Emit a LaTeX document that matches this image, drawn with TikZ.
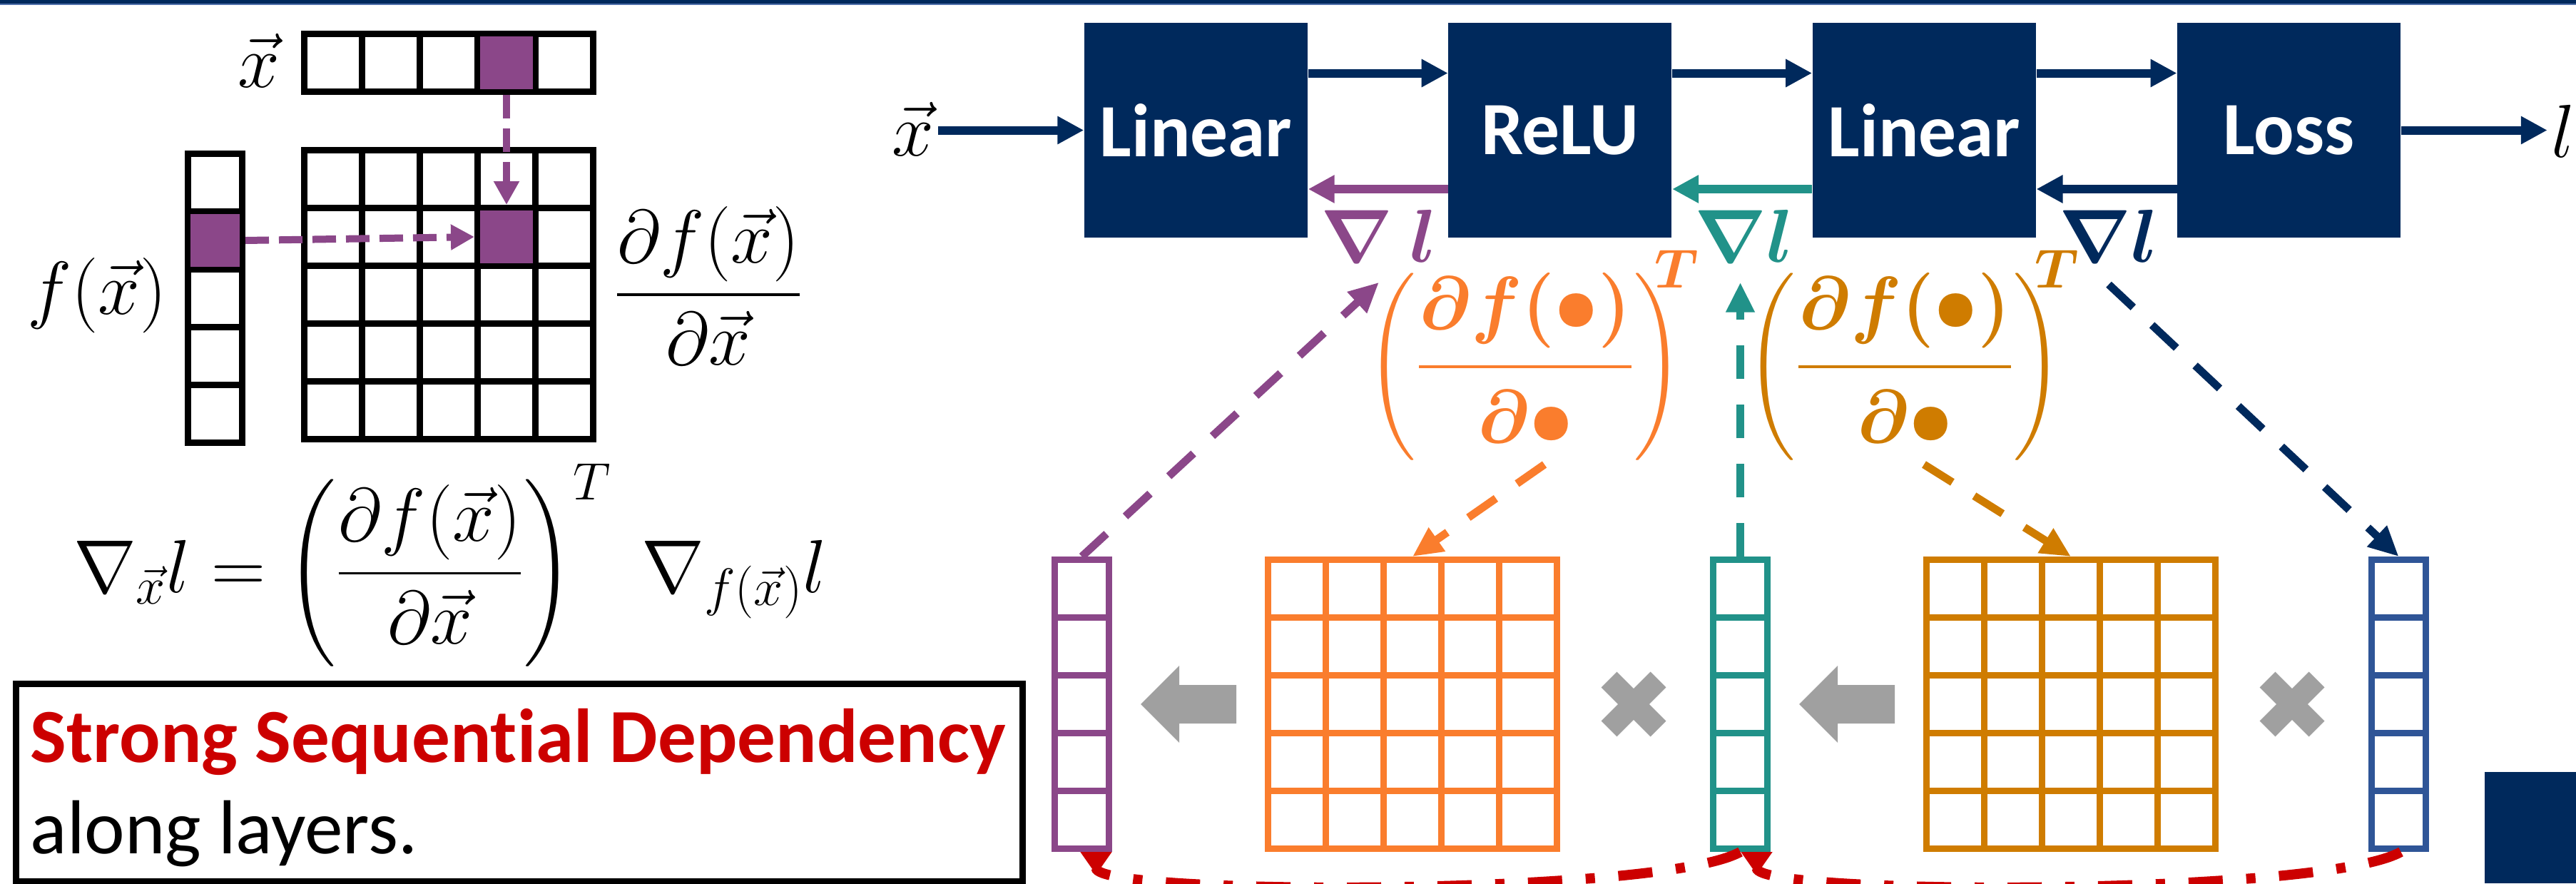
\RequirePackage{fix-cm}
\documentclass[tikz,border=0pt]{standalone}
\usepackage{amsmath}
\usepackage[no-math]{fontspec}
\setmainfont{Carlito}[Ligatures=NoCommon]
\usetikzlibrary{arrows.meta,positioning,calc}

\definecolor{navyC}{RGB}{0,41,92}
\definecolor{barC}{RGB}{80,112,170}
\definecolor{purpC}{RGB}{139,71,137}
\definecolor{tealC}{RGB}{33,146,137}
\definecolor{orngC}{RGB}{250,125,45}
\definecolor{brwnC}{RGB}{207,124,0}
\definecolor{blueC}{RGB}{47,85,151}
\definecolor{redC}{RGB}{204,0,0}
\definecolor{grayC}{RGB}{160,160,160}

\begin{document}
\begin{tikzpicture}[
    cell/.style={draw=#1,line width=0.09cm,minimum width=0.81cm,minimum height=0.81cm,inner sep=0pt},
    vcell/.style={cell=#1,minimum width=0.76cm},
    layerbox/.style={fill=navyC,text=white,minimum width=3.13cm,minimum height=3.01cm,inner sep=0pt,font=\bfseries\fontsize{30}{36}\selectfont},
    lbl/.style={inner sep=0.5mm,font=\fontsize{30}{36}\selectfont},
    grad/.style={inner sep=0pt,font=\boldmath\fontsize{30}{36}\selectfont},
    flow/.style={line width=0.12cm,-{Triangle[length=0.37cm,width=0.37cm]}},
    dflow/.style={line width=0.11cm,dash pattern=on 0.47cm off 0.36cm,-{Triangle[length=0.42cm,width=0.38cm]}},
    pick/.style={purpC,line width=0.1cm,dash pattern=on 0.33cm off 0.14cm,-{Triangle[length=0.33cm,width=0.34cm]}},
    backdep/.style={redC,line width=0.14cm,dash pattern=on 0.48cm off 0.33cm on 0.13cm off 0.33cm,-{Triangle[reversed,length=0.32cm,width=0.42cm]}},
  ]
  \useasboundingbox (0,0) rectangle (36.11,-12.38);

  \fill[navyC] (0,0) rectangle (36.11,-0.045);
  \fill[barC] (0,-0.045) rectangle (36.11,-0.065);

  % left: x, f(x) and the Jacobian
  \foreach \i in {1,...,5}
    \node[cell=black] (xv-\i) at ({4.265+0.81*(\i-0.5)},-0.88) {};
  \foreach \i in {1,...,5}
    \node[vcell=black] (fv-\i) at (3.015,{-2.155-0.81*(\i-0.5)}) {};
  \foreach \r in {1,...,5}
    \foreach \c in {1,...,5}
      \node[cell=black] (jm-\r-\c) at ({4.265+0.81*(\c-0.5)},{-2.105-0.81*(\r-0.5)}) {};
  \foreach \n in {xv-4,fv-2,jm-2-4}
    \fill[purpC] ([shift={(0.08,-0.08)}]\n.north west) rectangle ([shift={(-0.08,0.08)}]\n.south east);

  \node[lbl,anchor=base] (xlab) at (3.63,-1.22) {$\vec{x}$};
  \node[lbl,anchor=base] (flab) at (1.36,-4.40) {$f(\vec{x})$};
  \node[lbl,anchor=base] (jac) at (9.93,-4.395) {$\dfrac{\partial f(\vec{x})}{\partial \vec{x}}$};

  \draw[pick] (xv-4.south) -- (jm-2-4.north);
  \draw[pick] (fv-2.east) -- (jm-2-4.west);

  \node[lbl,anchor=base] (eq) at (6.31,-8.30)
    {$\nabla_{\vec{x}} l = \left(\dfrac{\partial f(\vec{x})}{\partial \vec{x}}\right)^{T} \ \nabla_{f(\vec{x})} l$};

  \node[draw,line width=0.09cm,minimum width=14.11cm,minimum height=2.77cm,inner sep=0pt] (note) at (7.28,-10.97) {};
  \node[anchor=base west,inner sep=0pt,text=redC,font=\bfseries\fontsize{30.5}{36}\selectfont] (dep) at (0.42,-10.68) {Strong Sequential Dependency};
  \node[anchor=base west,inner sep=0pt,font=\fontsize{30.5}{36}\selectfont] (dep2) at (0.42,-11.96) {along layers.};

  % right: the network
  \node[lbl,anchor=base] (xin) at (12.80,-2.18) {$\vec{x}$};
  \node[layerbox] (lin1) at (16.765,-1.825) {Linear};
  \node[layerbox,right=1.96cm of lin1] (relu) {ReLU};
  \node[layerbox,right=1.96cm of relu] (lin2) {Linear};
  \node[layerbox,right=1.97cm of lin2] (loss) {Loss};
  \node[lbl,anchor=base] (lout) at (35.93,-2.20) {$l$};

  \draw[flow,navyC] (lin1.west -| xin.east) -- (lin1.west);
  \draw[flow,navyC] ([yshift=0.8cm]lin1.east) -- ([yshift=0.8cm]relu.west);
  \draw[flow,navyC] ([yshift=0.8cm]relu.east) -- ([yshift=0.8cm]lin2.west);
  \draw[flow,navyC] ([yshift=0.8cm]lin2.east) -- ([yshift=0.8cm]loss.west);
  \draw[flow,navyC] (loss.east) -- (loss.east -| lout.west);

  \draw[flow,purpC] ([yshift=-0.825cm]relu.west) -- ([yshift=-0.825cm]lin1.east);
  \draw[flow,tealC] ([yshift=-0.825cm]lin2.west) -- ([yshift=-0.825cm]relu.east);
  \draw[flow,navyC] ([yshift=-0.825cm]loss.west) -- ([yshift=-0.825cm]lin2.east);

  \node[grad,text=purpC,anchor=base] (ga) at (19.33,-3.67) {$\nabla\ l$};
  \node[grad,text=tealC,anchor=base] (gb) at (24.45,-3.67) {$\nabla l$};
  \node[grad,text=navyC,anchor=base] (gc) at (29.56,-3.67) {$\nabla l$};

  \node[grad,text=orngC,anchor=base] (dfa) at (21.38,-5.405) {$\left(\dfrac{\partial f(\bullet)}{\partial\bullet}\right)$};
  \node[grad,text=orngC,font=\boldmath\fontsize{22}{26}\selectfont] (ta) at (23.50,-3.765) {$T$};
  \node[grad,text=brwnC,anchor=base] (dfb) at (26.70,-5.405) {$\left(\dfrac{\partial f(\bullet)}{\partial\bullet}\right)$};
  \node[grad,text=brwnC,font=\boldmath\fontsize{22}{26}\selectfont] (tb) at (28.83,-3.765) {$T$};

  % vectors and matrices of the backward pass
  \foreach \i in {1,...,5} {
    \node[vcell=purpC] (pv-\i) at (15.165,{-7.845-0.81*(\i-0.5)}) {};
    \node[vcell=tealC] (tv-\i) at (24.395,{-7.845-0.81*(\i-0.5)}) {};
    \node[vcell=blueC] (bv-\i) at (33.625,{-7.845-0.81*(\i-0.5)}) {};
  }
  \foreach \r in {1,...,5}
    \foreach \c in {1,...,5} {
      \node[cell=orngC] (og-\r-\c) at ({17.775+0.81*(\c-0.5)},{-7.845-0.81*(\r-0.5)}) {};
      \node[cell=brwnC] (bg-\r-\c) at ({27.005+0.81*(\c-0.5)},{-7.845-0.81*(\r-0.5)}) {};
    }

  \draw[dflow,purpC] (pv-1.north) -- ([yshift=-2.8mm]ga.south);
  \draw[dflow,orngC] ([xshift=2.7mm,yshift=-0.5mm]dfa.south) -- (og-1-3.north);
  \draw[dflow,tealC] (tv-1.north) -- ([yshift=-2.8mm]tv-1.north |- gb.south);
  \draw[dflow,brwnC] ([xshift=2.7mm,yshift=-0.5mm]dfb.south) -- (bg-1-3.north);
  \draw[dflow,navyC] ([yshift=-3.1mm]gc.south) -- (bv-1.north);

  % product signs
  \foreach \ax in {15.99,25.22}
    \fill[grayC] (\ax,-9.87) -- ++(0.54,0.54) -- ++(0,-0.27) -- ++(0.80,0) -- ++(0,-0.54)
      -- ++(-0.80,0) -- ++(0,-0.27) -- cycle;
  \foreach \cx in {22.90,32.13}
    \draw[grayC,line width=0.31cm] (\cx,-9.87) ++(-0.345,0.345) -- ++(0.69,-0.69)
      ++(-0.69,0) -- ++(0.69,0.69);

  \draw[backdep] (tv-5.south) .. controls +(-1.1,-0.62) and +(0,-0.62) .. ([xshift=2mm]pv-5.south);
  \draw[backdep] ([xshift=0.3mm]bv-5.south) .. controls +(-1.1,-0.62) and +(0,-0.62) .. ([xshift=2.3mm]tv-5.south);

  \fill[navyC] (34.83,-10.82) rectangle (36.11,-12.38);
\end{tikzpicture}
\end{document}
